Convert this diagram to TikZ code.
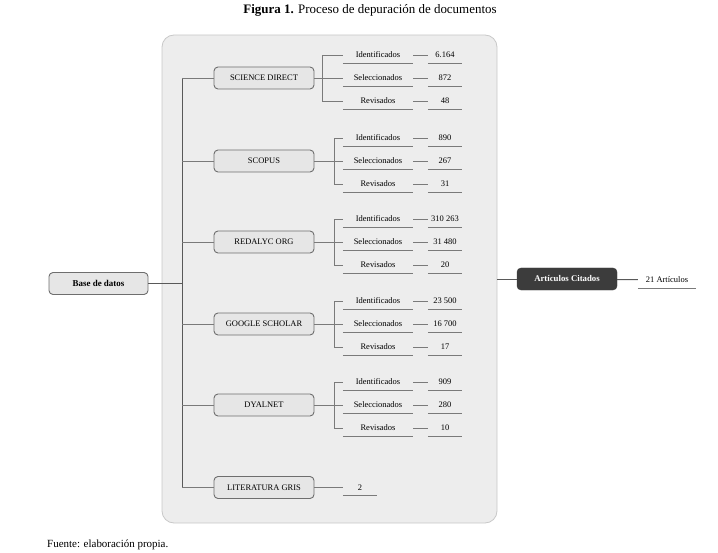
\documentclass[tikz,border=0pt]{standalone}
\usepackage{fontspec}
\setmainfont{Liberation Serif}
\definecolor{panelfill}{HTML}{EDEDED}
\definecolor{paneldraw}{HTML}{C8C8C8}
\definecolor{boxfill}{HTML}{E6E6E6}
\definecolor{boxdraw}{HTML}{6E6E6E}
\definecolor{linec}{HTML}{7A7A7A}
\definecolor{darkbox}{HTML}{3C3C3C}
\begin{document}
\begin{tikzpicture}[x=1bp,y=-1bp,
  src/.style={draw=boxdraw, fill=boxfill, rounded corners=4bp, line width=0.9bp, minimum width=100bp, minimum height=22bp, inner sep=0pt, font=\fontsize{8.5}{9}\selectfont},
  darknode/.style={draw=darkbox, fill=darkbox, text=white, rounded corners=4bp, minimum width=100bp, minimum height=22bp, inner sep=0pt, font=\fontsize{8.8}{9}\selectfont\bfseries},
  conn/.style={draw=linec, line width=0.9bp},
  trunk/.style={draw=black!65, line width=1bp},
  leaf/.style={minimum width=70bp, minimum height=16bp, inner sep=0pt, font=\fontsize{8.5}{9}\selectfont},
  numnode/.style={minimum width=34bp, minimum height=16bp, inner sep=0pt, font=\fontsize{8.5}{9}\selectfont},
  uline/.style={draw=linec, line width=1bp}
]
\useasboundingbox (0,0) rectangle (718,553);
\node (title) at (370,10) {\fontsize{13}{15}\selectfont\textbf{Figura 1.} Proceso de depuración de documentos};
\draw[fill=panelfill, draw=paneldraw, line width=0.8bp, rounded corners=12bp] (162,35) rectangle (497,523);

% base
\node[src, font=\fontsize{9}{10}\selectfont\bfseries, minimum width=99bp] (base) at (98.5,283.5) {Base de datos};
\coordinate (tb) at (182,283.5);
\draw[trunk] (base) -- (tb);
\coordinate (ttop) at (182,78);
\coordinate (tbot) at (182,487.5);
\draw[trunk] (ttop) -- (tbot);

\foreach \nm/\lab/\y/\bx/\na/\nb/\nc in {
  sd/SCIENCE DIRECT/78/322/6.164/872/48,
  sc/SCOPUS/161/334/890/267/31,
  re/REDALYC ORG/242/334/310 263/31 480/20,
  go/GOOGLE SCHOLAR/324/334/23 500/16 700/17,
  dy/DYALNET/405/334/909/280/10}{
  \node[src] (\nm) at (264,\y) {\lab};
  \coordinate (t\nm) at (182,\y);
  \draw[conn] (t\nm) -- (\nm);
  \node[leaf] (\nm-i) at (378,\y-23) {Identificados};
  \node[leaf] (\nm-s) at (378,\y) {Seleccionados};
  \node[leaf] (\nm-r) at (378,\y+23) {Revisados};
  \node[numnode] (\nm-in) at (445,\y-23) {\na};
  \node[numnode] (\nm-sn) at (445,\y) {\nb};
  \node[numnode] (\nm-rn) at (445,\y+23) {\nc};
  \coordinate (\nm-bt) at (\bx,\y-23);
  \coordinate (\nm-bb) at (\bx,\y+23);
  \draw[conn] (\nm-i.west) -- (\nm-bt) -- (\nm-bb) -- (\nm-r.west);
  \draw[conn] (\nm) -- (\nm-s);
  \foreach \k in {i,s,r}{
    \draw[uline] (\nm-\k.south west) -- (\nm-\k.south east);
    \draw[uline] (\nm-\k n.south west) -- (\nm-\k n.south east);
    \draw[conn] (\nm-\k.east) -- (\nm-\k n.west);
  }
}

% literatura gris
\node[src] (lg) at (264,487.5) {LITERATURA GRIS};
\draw[conn] (tbot) -- (lg);
\node[numnode] (lgn) at (360,487.5) {2};
\draw[conn] (lg) -- (lgn);
\draw[uline] (lgn.south west) -- (lgn.south east);

% articulos citados
\node[darknode] (art) at (567,279) {Artículos Citados};
\coordinate (pe) at (497,279);
\draw[trunk] (pe) -- (art);
\node[numnode, minimum width=58bp] (res) at (667,280) {21 Artículos};
\draw[trunk] (art) -- (res);
\draw[uline] (res.south west) -- (res.south east);

\node[anchor=west, inner sep=0pt] (fuente) at (47,545) {\fontsize{11}{13}\selectfont Fuente: elaboración propia.};
\end{tikzpicture}
\end{document}
